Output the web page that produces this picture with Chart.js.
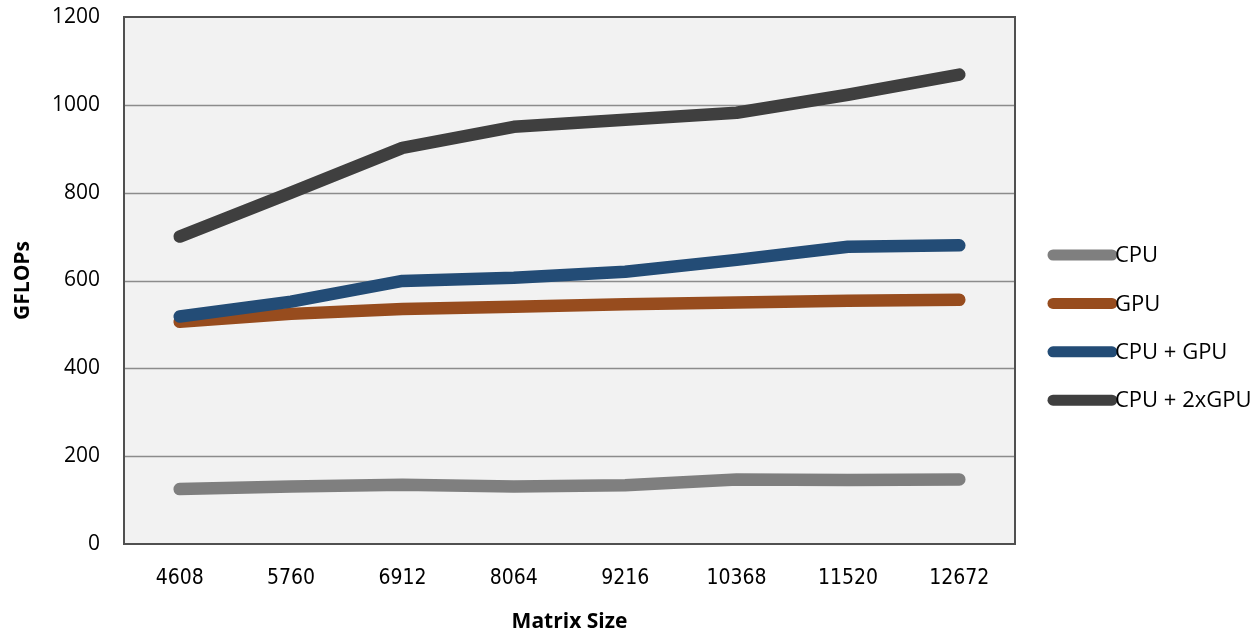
<!DOCTYPE html>
<html>
<head>
<meta charset="utf-8">
<script src="https://cdn.jsdelivr.net/npm/chart.js@4/dist/chart.umd.min.js"></script>
<style>
  html, body { margin: 0; padding: 0; background: #ffffff; }
  #wrap { width: 1259px; height: 631px; }
</style>
</head>
<body>
<div id="wrap"><canvas id="c" width="1259" height="631"></canvas></div>
<script>
// Matrix sizes on the x axis
const matrixSizes = ['4608', '5760', '6912', '8064', '9216', '10368', '11520', '12672'];

// GFLOPs per configuration
const cpuValues     = [125, 131, 135, 131, 134, 147, 146, 147];
const gpuValues     = [506, 524, 535, 540, 546, 550, 554, 556];
const cpuGpuValues  = [518, 552, 599, 606, 620, 647, 677, 680];
const cpu2GpuValues = [700, 800, 902, 950, 966, 982, 1023, 1069];

// Series names and colours
const seriesNames  = ['CPU', 'GPU', 'CPU + GPU', 'CPU + 2xGPU'];
const seriesColors = ['#7f7f7f', '#974c1e', '#234c76', '#3f3f3f'];

// Value axis range
const yMin = 0, yMax = 1200, yStep = 200;

const seriesValues = [cpuValues, gpuValues, cpuGpuValues, cpu2GpuValues];

// Plot background and framing box
const plotFrame = {
  id: 'plotFrame',
  beforeDatasetsDraw(chart) {
    const { ctx, chartArea: a } = chart;
    ctx.save();
    ctx.fillStyle = '#f2f2f2';
    ctx.fillRect(a.left, a.top, a.right - a.left, a.bottom - a.top);
    // horizontal grid lines over the fill
    const y = chart.scales.y;
    ctx.strokeStyle = '#8c8c8c';
    ctx.lineWidth = 1.5;
    for (let v = yMin + yStep; v < yMax; v += yStep) {
      const py = Math.round(y.getPixelForValue(v)) + 0.5;
      ctx.beginPath();
      ctx.moveTo(a.left, py);
      ctx.lineTo(a.right, py);
      ctx.stroke();
    }
    ctx.restore();
  },
  afterDatasetsDraw(chart) {
    const { ctx, chartArea: a } = chart;
    ctx.save();
    ctx.strokeStyle = '#505050';
    ctx.lineWidth = 2;
    ctx.strokeRect(a.left, a.top, a.right - a.left, a.bottom - a.top);
    ctx.restore();
  }
};

// Legend at the right with rounded line samples
const sideLegend = {
  id: 'sideLegend',
  afterDraw(chart) {
    const { ctx } = chart;
    const x0 = 1053, x1 = 1112, textX = 1115;
    const firstY = 255, step = 48.4;
    ctx.save();
    ctx.font = '22px "Open Sans", sans-serif';
    ctx.textBaseline = 'middle';
    ctx.textAlign = 'left';
    chart.data.datasets.forEach((ds, i) => {
      const cy = firstY + i * step;
      ctx.strokeStyle = ds.borderColor;
      ctx.lineWidth = 11;
      ctx.lineCap = 'round';
      ctx.beginPath();
      ctx.moveTo(x0, cy);
      ctx.lineTo(x1, cy);
      ctx.stroke();
      ctx.fillStyle = '#000000';
      ctx.fillText(ds.label, textX, cy + 1);
    });
    ctx.restore();
  }
};

const datasets = seriesNames.map((name, i) => ({
  label: name,
  data: seriesValues[i],
  borderColor: seriesColors[i],
  backgroundColor: seriesColors[i],
  borderWidth: 12.5,
  borderCapStyle: 'round',
  borderJoinStyle: 'round',
  pointRadius: 0,
  pointHoverRadius: 0,
  tension: 0,
  fill: false,
  order: seriesNames.length - i
}));

new Chart(document.getElementById('c'), {
  type: 'line',
  data: { labels: matrixSizes, datasets },
  plugins: [plotFrame, sideLegend],
  options: {
    responsive: false,
    maintainAspectRatio: false,
    animation: false,
    layout: { padding: { left: 0, right: 244, top: 17, bottom: 0 } },
    plugins: {
      legend: { display: false },
      tooltip: { enabled: false }
    },
    scales: {
      x: {
        type: 'category',
        offset: true,
        grid: { display: false, drawTicks: false },
        border: { display: false },
        ticks: {
          color: '#000000',
          padding: 22,
          maxRotation: 0,
          font: { family: '"Liberation Sans Narrow", "DejaVu Sans Condensed", sans-serif', size: 21 }
        },
        title: {
          display: true,
          text: 'Matrix Size',
          color: '#000000',
          padding: { top: 0, bottom: -4 },
          font: { family: '"Open Sans", sans-serif', size: 21, weight: 'bold' }
        },
        afterFit(scale) { scale.height = 87; }
      },
      y: {
        min: yMin,
        max: yMax,
        ticks: {
          stepSize: yStep,
          color: '#000000',
          padding: 0,
          font: { family: '"Open Sans", sans-serif', size: 21 },
          callback: (v) => String(v)
        },
        // invisible tick marks keep the labels clear of the plot edge
        grid: {
          display: true,
          drawOnChartArea: false,
          drawTicks: true,
          tickLength: 24,
          tickColor: 'rgba(0,0,0,0)',
          color: 'rgba(0,0,0,0)'
        },
        border: { display: false },
        title: {
          display: true,
          text: 'GFLOPs',
          color: '#000000',
          padding: { top: 10, bottom: 0 },
          font: { family: '"Open Sans", sans-serif', size: 21, weight: 'bold' }
        },
        afterFit(scale) { scale.width = 124; }
      }
    }
  }
});
</script>
</body>
</html>
